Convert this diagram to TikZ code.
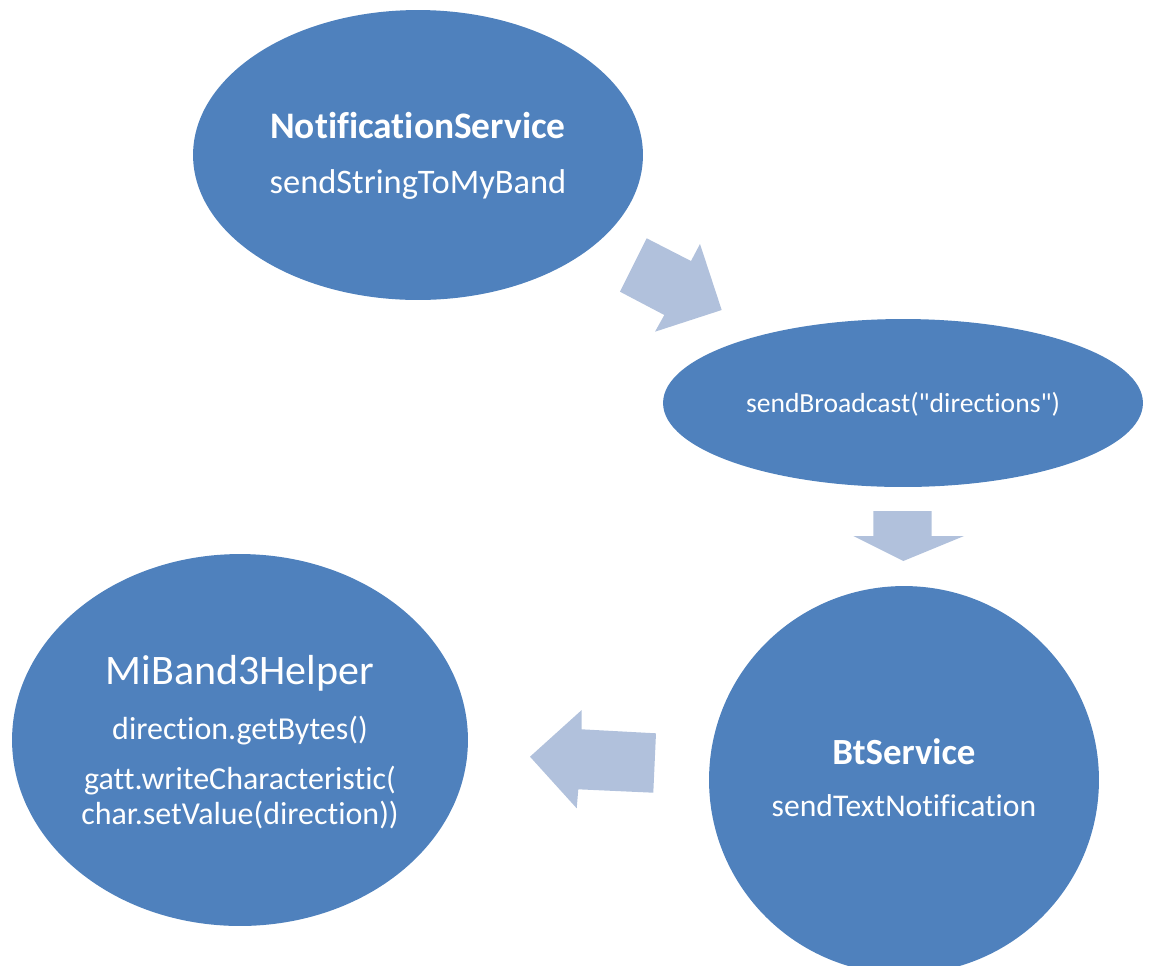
\documentclass[tikz,border=0pt]{standalone}
\usepackage{fontspec}
\setmainfont{Carlito}[Ligatures={NoCommon,TeXOff}]
\usetikzlibrary{shapes.geometric}
\definecolor{bubble}{HTML}{4F81BD}
\definecolor{flow}{HTML}{B1C1DC}
\newcommand{\fs}[1]{\fontsize{#1}{#1}\selectfont}
\begin{document}
\begin{tikzpicture}[x=0.02cm,y=-0.02cm,
  bubble/.style={ellipse,fill=bubble,draw=none,inner sep=0pt,outer sep=0pt},
  label/.style={text=white,inner sep=0pt,anchor=base},
  blockarrow/.style={fill=flow,draw=none}]
\useasboundingbox (0,0) rectangle (1150,965);
\clip (0,0) rectangle (1150,965);

% process bubbles
\node[bubble,minimum width=9cm,minimum height=5.8cm] (notif) at (418,155) {};
\node[bubble,minimum width=9.6cm,minimum height=3.36cm] (bcast) at (903,403) {};
\node[bubble,minimum width=7.8cm,minimum height=7.76cm] (bt) at (904,780) {};
\node[bubble,minimum width=9.12cm,minimum height=7.44cm] (helper) at (240,740) {};

% labels
\node[label] (notifT) at (418,138.3) {\fs{21.3pt}\bfseries NotificationService};
\node[label] (notifM) at (418,193.3) {\fs{19.6pt}sendStringToMyBand};
\node[label] (bcastM) at (903,412.3) {\fs{15.7pt}sendBroadcast("directions")};
\node[label] (btT) at (904,764) {\fs{21pt}\bfseries BtService};
\node[label] (btM) at (904,816) {\fs{18pt}sendTextNotification};
\node[label] (helperT) at (240,684) {\fs{23.9pt}MiBand3Helper};
\node[label] (helperA) at (240,739.3) {\fs{18.2pt}direction.getBytes()};
\node[label] (helperB) at (240,789.3) {\fs{18.2pt}gatt.writeCharacteristic(};
\node[label] (helperC) at (240,824.3) {\fs{18.2pt}char.setValue(direction))};

% flow arrows
\fill[blockarrow] (646.7,238.3) -- (691,261) -- (700,244) -- (721.7,310)
  -- (655,331.7) -- (664.3,315) -- (620,291.7) -- cycle;
\fill[blockarrow] (873.3,511) -- (931.7,511) -- (931.7,536) -- (964,536)
  -- (903.3,561) -- (853.3,536) -- (873.3,536) -- cycle;
\fill[blockarrow] (656,733.3) -- (581.7,729.3) -- (581.7,710) -- (530,756.7)
  -- (576.7,808.3) -- (578.3,789.3) -- (653.3,792.7) -- cycle;
\end{tikzpicture}
\end{document}
